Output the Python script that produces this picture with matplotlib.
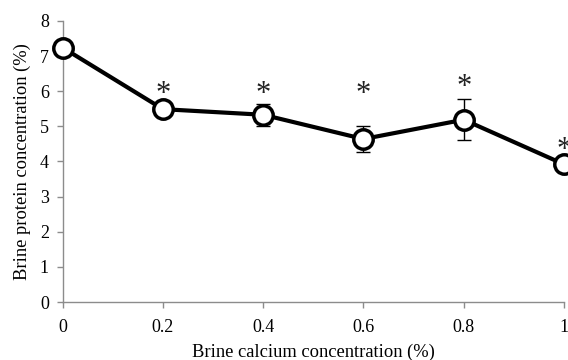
import matplotlib
matplotlib.use("Agg")
import matplotlib.pyplot as plt

# brine data
calcium = [0, 0.2, 0.4, 0.6, 0.8, 1.0]
protein = [7.24, 5.49, 5.33, 4.64, 5.19, 3.92]
protein_err = [0.08, 0.05, 0.32, 0.38, 0.58, 0.05]
star_y = [None, 5.92, 5.9, 5.9, 6.1, 4.3]

xtick_labels = ["0", "0.2", "0.4", "0.6", "0.8", "1"]
yticks = [0, 1, 2, 3, 4, 5, 6, 7, 8]

plt.rcParams['font.family'] = ['Liberation Serif', 'DejaVu Serif']

fig = plt.figure(figsize=(5.68, 3.6), dpi=100)
ax = fig.add_axes([0.1104, 0.1611, 0.8826, 0.7806])

ax.errorbar(calcium, protein, yerr=protein_err, fmt='none', ecolor='black',
            elinewidth=1.0, capsize=5, capthick=1.0, zorder=2, clip_on=False)
ax.plot(calcium, protein, color='black', linewidth=3, marker='o',
        markersize=14, markerfacecolor='white', markeredgecolor='black',
        markeredgewidth=2.5, zorder=3, clip_on=False)

for x, y in zip(calcium, star_y):
    if y is not None:
        ax.text(x, y, "*", ha='center', va='center', fontsize=22, color='#222222')

ax.set_xlim(0, 1)
ax.set_ylim(0, 8)
ax.set_xticks(calcium)
ax.set_xticklabels(xtick_labels)
ax.set_yticks(yticks)

for side in ['top', 'right']:
    ax.spines[side].set_visible(False)
for side in ['left', 'bottom']:
    ax.spines[side].set_color('#8c8c8c')
    ax.spines[side].set_linewidth(1.0)

ax.tick_params(axis='both', direction='out', length=4, width=1.0,
               color='#8c8c8c', labelsize=13, labelcolor='black')
ax.tick_params(axis='x', pad=8)
ax.tick_params(axis='y', pad=6)

ax.set_xlabel("Brine calcium concentration (%)", fontsize=13.3, labelpad=6)
ax.set_ylabel("Brine protein concentration (%)", fontsize=13.3, labelpad=6)

plt.savefig("out.png", dpi=100)
plt.close()
